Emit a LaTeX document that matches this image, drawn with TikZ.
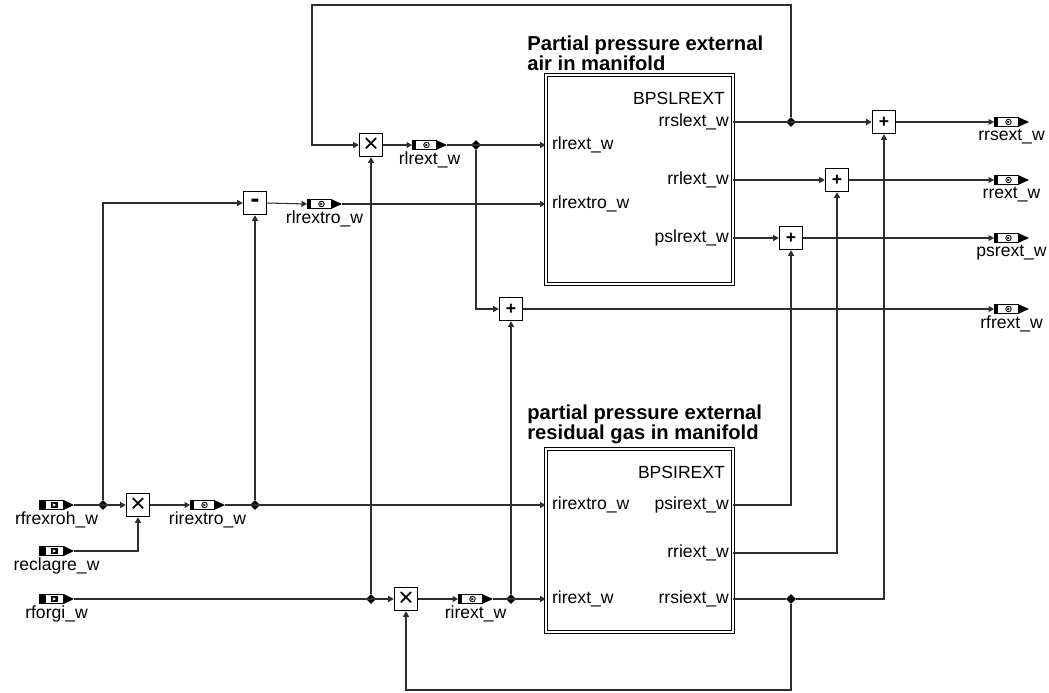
\documentclass[tikz,border=0pt]{standalone}
\usepackage{fontspec}
\setmainfont{Liberation Sans}
\usetikzlibrary{arrows.meta,shapes.geometric}
\definecolor{WireGray}{HTML}{2E2E2E}

\tikzset{
  wire/.style={draw=WireGray, line width=0.6pt},
  arr/.style={-{Triangle[length=1.1mm,width=1.2mm]}},
  op/.style={draw=black, line width=0.6pt, fill=white, minimum size=0.47cm, inner sep=0pt},
  jdot/.style={diamond, fill=black, inner sep=0pt, minimum size=0.2cm},
  lbl/.style={font=\fontsize{10}{12}\selectfont, inner sep=1pt},
  pintext/.style={font=\fontsize{10}{12}\selectfont, inner sep=1pt},
  title/.style={font=\fontsize{11.5}{11}\selectfont\bfseries, align=left, inner sep=0pt, anchor=north west},
  blk/.style={draw=black, double, double distance=1.2pt, line width=0.5pt, minimum width=3.74cm, inner sep=0pt},
  inport/.style={minimum width=0.7cm, minimum height=0.2cm, inner sep=0pt, outer sep=0pt,
    path picture={
      \begin{scope}[shift={(path picture bounding box.center)}, x=1cm, y=1cm]
        \fill (-0.35,-0.1) rectangle (-0.23,0.1);
        \draw[line width=0.5pt] (-0.23,-0.085) rectangle (0.14,0.085);
        \fill (-0.11,-0.055) rectangle (0.02,0.055);
        \fill[white] (-0.075,-0.035) -- (-0.01,0) -- (-0.075,0.035) -- cycle;
        \fill (0.14,-0.1) -- (0.35,0) -- (0.14,0.1) -- cycle;
      \end{scope}}},
  msgport/.style={minimum width=0.7cm, minimum height=0.2cm, inner sep=0pt, outer sep=0pt,
    path picture={
      \begin{scope}[shift={(path picture bounding box.center)}, x=1cm, y=1cm]
        \fill (-0.35,-0.1) rectangle (-0.29,0.1);
        \draw[line width=0.5pt] (-0.29,-0.085) rectangle (0.13,0.085);
        \draw[line width=0.5pt] (-0.06,0) circle (0.055);
        \fill (-0.085,-0.03) -- (-0.035,0) -- (-0.085,0.03) -- cycle;
        \fill (0.13,-0.1) -- (0.35,0) -- (0.13,0.1) -- cycle;
      \end{scope}}}
}

\begin{document}
\begin{tikzpicture}[x=0.02cm,y=-0.02cm]
\path[use as bounding box] (0,0) rectangle (1049,693);

% blocks
\node[blk, minimum height=4.18cm] (blkA) at (639.5,179.5) {};
\node[blk, minimum height=3.66cm] (blkB) at (639.5,540.5) {};
\node[title] (ttlA) at (527,36) {Partial pressure external\\air in manifold};
\node[title] (ttlB) at (527,405) {partial pressure external\\residual gas in manifold};

\node[pintext,anchor=east] (nmA) at (727,98) {BPSLREXT};
\node[pintext,anchor=east] (oA1) at (731,122) {rrslext\_w};
\node[pintext,anchor=east] (oA2) at (731,180) {rrlext\_w};
\node[pintext,anchor=east] (oA3) at (731,238) {pslrext\_w};
\node[pintext,anchor=west] (iA1) at (550,145) {rlrext\_w};
\node[pintext,anchor=west] (iA2) at (550,204) {rlrextro\_w};

\node[pintext,anchor=east] (nmB) at (727,472) {BPSIREXT};
\node[pintext,anchor=east] (oB1) at (731,505) {psirext\_w};
\node[pintext,anchor=east] (oB2) at (731,553) {rriext\_w};
\node[pintext,anchor=east] (oB3) at (731,599) {rrsiext\_w};
\node[pintext,anchor=west] (iB1) at (550,505) {rirextro\_w};
\node[pintext,anchor=west] (iB2) at (550,599) {rirext\_w};

% ports
\node[inport, label={[lbl]below:rfrexroh\_w}] (inRfx) at (56.5,505) {};
\node[inport, label={[lbl]below:reclagre\_w}] (inRcl) at (56.5,551) {};
\node[inport, label={[lbl]below:rforgi\_w}] (inRfo) at (56.5,599) {};
\node[msgport, label={[lbl]below:rirextro\_w}] (pRix) at (207.5,505) {};
\node[msgport, label={[lbl]below:rlrextro\_w}] (pRlx) at (324.5,204) {};
\node[msgport, label={[lbl]below:rlrext\_w}] (pRl) at (429.5,145) {};
\node[msgport, label={[lbl]below:rirext\_w}] (pRi) at (475.5,599) {};
\node[msgport, label={[lbl]below:rrsext\_w}] (outRs) at (1011.5,122) {};
\node[msgport, label={[lbl]below:rrext\_w}] (outRr) at (1011.5,180) {};
\node[msgport, label={[lbl]below:psrext\_w}] (outPs) at (1011.5,238) {};
\node[msgport, label={[lbl]below:rfrext\_w}] (outRf) at (1011.5,309) {};

% operators
\node[op] (mulA) at (138,505) {\fontsize{15}{15}\selectfont ×};
\node[op] (subA) at (255,203) {\fontsize{15}{15}\selectfont\bfseries -};
\node[op] (mulB) at (371,145) {\fontsize{15}{15}\selectfont ×};
\node[op] (mulC) at (406,599) {\fontsize{15}{15}\selectfont ×};
\node[op] (sumF) at (511,309) {\fontsize{10}{10}\selectfont\bfseries +};
\node[op] (sumP) at (791,238) {\fontsize{10}{10}\selectfont\bfseries +};
\node[op] (sumR) at (837,180) {\fontsize{10}{10}\selectfont\bfseries +};
\node[op] (sumS) at (884,122) {\fontsize{10}{10}\selectfont\bfseries +};

% junctions
\node[jdot] (j1) at (103,505) {};
\node[jdot] (j2) at (255,505) {};
\node[jdot] (j3) at (371,599) {};
\node[jdot] (j4) at (476,145) {};
\node[jdot] (j5) at (511,599) {};
\node[jdot] (j6) at (791,122) {};
\node[jdot] (j7) at (791,599) {};
\coordinate (loopT) at (312,5);
\coordinate (loopB) at (406,690);

% wires, left part
\draw[wire,arr] (inRfx.east) -- (mulA.west);
\draw[wire,arr] (j1) |- (subA.west);
\draw[wire,arr] (inRcl.east) -| (mulA.south);
\draw[wire,arr] (mulA.east) -- (pRix.west);
\draw[wire,arr] (pRix.east) -- (pRix -| blkB.west);
\draw[wire,arr] (j2) -- (subA.south);
\draw[wire,arr] (subA.east) -- (pRlx.west);
\draw[wire,arr] (pRlx.east) -- (pRlx -| blkA.west);
\draw[wire,arr] (inRfo.east) -- (mulC.west);
\draw[wire,arr] (j3) -- (mulB.south);
\draw[wire,arr] (mulB.east) -- (pRl.west);
\draw[wire,arr] (pRl.east) -- (pRl -| blkA.west);
\draw[wire,arr] (j4) |- (sumF.west);
\draw[wire,arr] (mulC.east) -- (pRi.west);
\draw[wire,arr] (pRi.east) -- (pRi -| blkB.west);
\draw[wire,arr] (j5) -- (sumF.south);
\draw[wire,arr] (sumF.east) -- (outRf.west);

% wires, right part
\draw[wire,arr] (oA1 -| blkA.east) -- (sumS.west);
\draw[wire,arr] (oA2 -| blkA.east) -- (sumR.west);
\draw[wire,arr] (oA3 -| blkA.east) -- (sumP.west);
\draw[wire,arr] (sumS.east) -- (outRs.west);
\draw[wire,arr] (sumR.east) -- (outRr.west);
\draw[wire,arr] (sumP.east) -- (outPs.west);
\draw[wire,arr] (j6) |- (loopT) |- (mulB.west);
\draw[wire,arr] (oB1 -| blkB.east) -| (sumP.south);
\draw[wire,arr] (oB2 -| blkB.east) -| (sumR.south);
\draw[wire] (oB3 -| blkB.east) -- (j7);
\draw[wire,arr] (j7) -| (sumS.south);
\draw[wire,arr] (j7) |- (loopB) -| (mulC.south);
\end{tikzpicture}
\end{document}
